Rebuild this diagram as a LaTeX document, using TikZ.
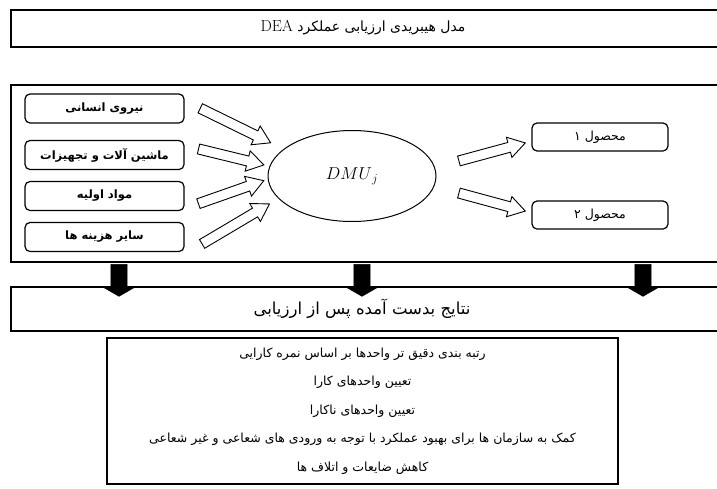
\documentclass[tikz,border=0pt]{standalone}
\usepackage{fontspec}
\usepackage{tikz}
\usetikzlibrary{shapes.geometric, shapes.arrows, calc}
\TeXXeTstate=1
\newfontfamily\farsi[Script=Arabic]{DejaVu Sans}
\newcommand\fa[1]{\beginR #1\endR}

\tikzset{
	frame/.style={draw=black, line width=2.2pt},
	inbox/.style={draw, rounded corners=5pt, line width=1.2pt, minimum width=159, minimum height=29, inner sep=0pt, font=\farsi\bfseries\fontsize{11.5}{13}\selectfont},
	outbox/.style={draw, rounded corners=5pt, line width=1.2pt, minimum width=136, minimum height=28, inner sep=0pt, font=\farsi\fontsize{12.5}{14}\selectfont},
	hollowarrow/.style={single arrow, draw, line width=0.9pt, fill=white, inner sep=0pt, inner ysep=4.6pt, single arrow head extend=5.4pt, single arrow tip angle=64, minimum width=20},
	blackarrow/.style={single arrow, draw, fill=black, inner sep=0pt, inner ysep=8pt, single arrow head extend=9pt, single arrow tip angle=120, minimum width=34},
}

%% block arrow from #2 to #3
\newcommand\blockarrow[3][hollowarrow]{%
	\path let \p1=($(#3)-(#2)$), \n1={atan2(\y1,\x1)}, \n2={veclen(\x1,\y1)} in
	node[#1, minimum height=\n2, rotate=\n1] at ($(#2)!0.5!(#3)$) {};}

\begin{document}
\begin{tikzpicture}[x=1pt, y=-1pt]
	\clip (0,0) rectangle (717,488);
	
	%% title
	\draw[frame] (11,10) rectangle (740,47);
	\node[font=\farsi\fontsize{14}{16}\selectfont] (title) at (363,28) {\fa{مدل هیبریدی ارزیابی عملکرد \beginL{\rmfamily\fontsize{16}{18}\selectfont DEA}\endL}};
	
	%% main frame
	\draw[frame] (11,85) rectangle (740,262);
	
	\node[inbox] (in1) at (104.5,108.5) {\fa{نیروی انسانی}};
	\node[inbox] (in2) at (104.5,155) {\fa{ماشین آلات و تجهیزات}};
	\node[inbox] (in3) at (104.5,196) {\fa{مواد اولیه}};
	\node[inbox] (in4) at (104.5,237) {\fa{سایر هزینه ها}};
	
	\node[draw, ellipse, line width=1pt, minimum width=168, minimum height=91] (dmu) at (352,176) {\fontsize{18}{20}\selectfont$DMU_{\,j}$};
	
	\node[outbox] (out1) at (600,137) {\fa{محصول ۱}};
	\node[outbox] (out2) at (600,215) {\fa{محصول ۲}};
	
	%% inputs -> DMU
	\coordinate (a1) at ($(in1.east)+(12,-2)$);
	\coordinate (b1) at ($(dmu.center)+(-85,-35)$);
	\coordinate (a2) at ($(in2.east)+(10,-7)$);
	\coordinate (b2) at ($(dmu.center)+(-92,-12)$);
	\coordinate (a3) at ($(in3.east)+(10,9)$);
	\coordinate (b3) at ($(dmu.center)+(-92,6)$);
	\coordinate (a4) at ($(in4.east)+(14,9)$);
	\coordinate (b4) at ($(dmu.center)+(-86,30)$);
	\foreach \i in {1,...,4}
	\blockarrow{a\i}{b\i};
	
	%% DMU -> outputs
	\coordinate (c1) at ($(dmu.center)+(103,-14)$);
	\coordinate (d1) at ($(out1.west)+(-10,7)$);
	\coordinate (c2) at ($(dmu.center)+(103,16)$);
	\coordinate (d2) at ($(out2.west)+(-10,-5)$);
	\blockarrow{c1}{d1};
	\blockarrow{c2}{d2};
	
	%% results
	\draw[frame] (11,287) rectangle (740,331);
	\node[font=\farsi\fontsize{16.5}{18}\selectfont] (result) at (362,309) {\fa{نتایج بدست آمده پس از ارزیابی}};
	
	\foreach \x [count=\k] in {119,362,643}{
		\coordinate (e\k) at (\x,262);
		\coordinate (f\k) at (\x,294);
		\blockarrow[blackarrow]{e\k}{f\k};
	}
	
	\node[draw, line width=1.8pt, minimum width=511, minimum height=146, align=center, font=\farsi\fontsize{12.5}{28.5}\selectfont] (list) at (362.5,411) {%
		\fa{رتبه بندی دقیق تر واحدها بر اساس نمره کارایی}\\
		\fa{تعیین واحدهای کارا}\\
		\fa{تعیین واحدهای ناکارا}\\
		\fa{کمک به سازمان ها برای بهبود عملکرد با توجه به ورودی های شعاعی و غیر شعاعی}\\
		\fa{کاهش ضایعات و اتلاف ها}};
\end{tikzpicture}
\end{document}
